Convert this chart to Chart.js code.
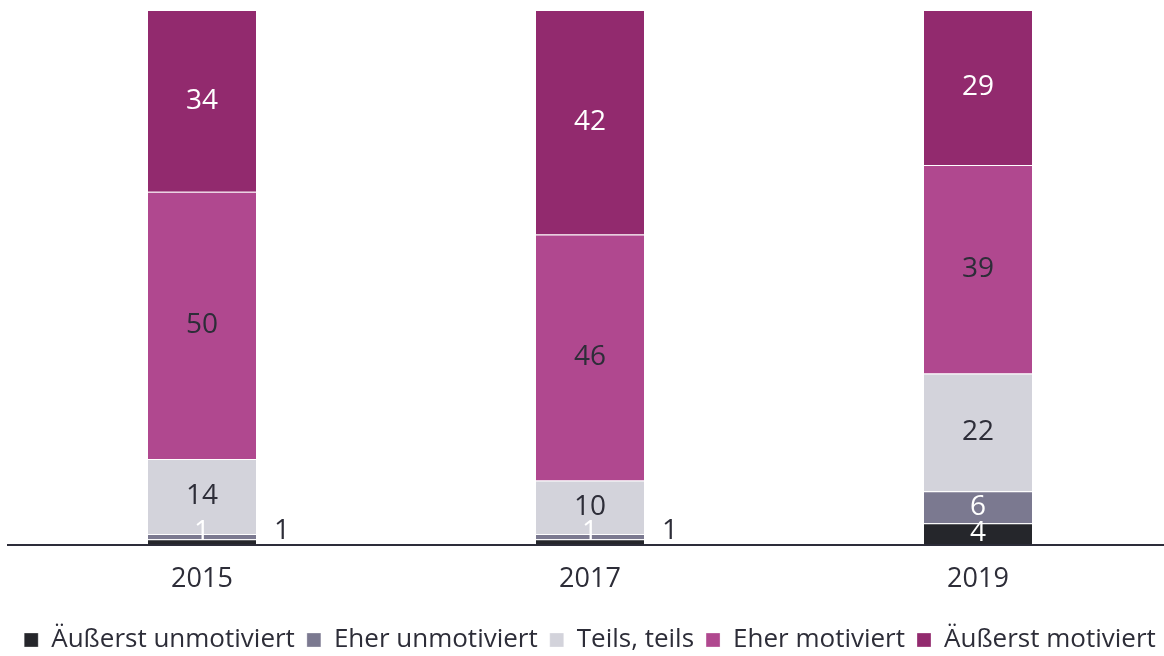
<!DOCTYPE html>
<html>
<head>
<meta charset="utf-8">
<script src="https://cdn.jsdelivr.net/npm/chart.js@4/dist/chart.umd.min.js"></script>
<style>
html,body{margin:0;padding:0;background:#fff;overflow:hidden;}
#wrap{position:relative;width:1190px;height:663px;}
</style>
</head>
<body>
<div id="wrap"><canvas id="c"></canvas></div>
<script>
const years = ['2015', '2017', '2019'];
const seriesNames = ['Äußerst unmotiviert', 'Eher unmotiviert', 'Teils, teils', 'Eher motiviert', 'Äußerst motiviert'];
const aeusserstUnmotiviert = [1, 1, 4];
const eherUnmotiviert = [1, 1, 6];
const teilsTeils = [14, 10, 22];
const eherMotiviert = [50, 46, 39];
const aeusserstMotiviert = [34, 42, 29];
const seriesColors = ['#25262b', '#7b7990', '#d3d3db', '#b0488f', '#922a6e'];
const labelColors = ['#ffffff', '#ffffff', '#2d2d38', '#2d2d38', '#ffffff'];

const values = [aeusserstUnmotiviert, eherUnmotiviert, teilsTeils, eherMotiviert, aeusserstMotiviert];
const FONT = "'Open Sans', 'DejaVu Sans', sans-serif";

const labelPlugin = {
  id: 'segLabels',
  afterDatasetsDraw(chart) {
    const ctx = chart.ctx;
    ctx.save();
    ctx.font = '400 28px ' + FONT;
    ctx.textAlign = 'center';
    ctx.textBaseline = 'middle';
    chart.data.datasets.forEach((ds, di) => {
      const meta = chart.getDatasetMeta(di);
      meta.data.forEach((el, i) => {
        const v = ds.data[i];
        const props = el.getProps(['x', 'y', 'base', 'width'], true);
        let x = props.x, y = (props.y + props.base) / 2;
        let color = labelColors[di];
        if (di === 0 && v < 2) {
          x = props.x + props.width / 2 + 25;
          y = props.base - 14;
          color = '#2d2d38';
        } else if (di === 1 && v < 2) {
          y = y - 5;
        } else if (di === 0) {
          y = y - 1;
        }
        ctx.fillStyle = color;
        ctx.fillText(String(v), x, y);
      });
    });
    ctx.restore();
  }
};

new Chart(document.getElementById('c'), {
  type: 'bar',
  data: {
    labels: years,
    datasets: values.map((arr, k) => ({
      label: seriesNames[k],
      data: arr,
      backgroundColor: seriesColors[k],
      borderColor: 'rgba(255,255,255,0.3)',
      borderWidth: 1,
      borderSkipped: 'bottom',
      barPercentage: 1,
      categoryPercentage: 0.2835
    }))
  },
  options: {
    responsive: true,
    maintainAspectRatio: false,
    animation: false,
    layout: { padding: { left: 8, right: 18, top: 10, bottom: 0 } },
    scales: {
      x: {
        stacked: true,
        grid: { display: false, drawTicks: false },
        border: { display: true, color: '#2d2d3a', width: 2 },
        ticks: { color: '#2d2d38', font: { family: FONT, size: 27 }, padding: 19 }
      },
      y: {
        stacked: true,
        display: false,
        min: 0,
        max: 100
      }
    },
    plugins: {
      legend: {
        position: 'bottom',
        labels: {
          color: '#2d2d38',
          font: { family: FONT, size: 26 },
          boxWidth: 14,
          boxHeight: 14,
          padding: 12
        }
      },
      tooltip: { enabled: false }
    }
  },
  plugins: [labelPlugin]
});
</script>
</body>
</html>
